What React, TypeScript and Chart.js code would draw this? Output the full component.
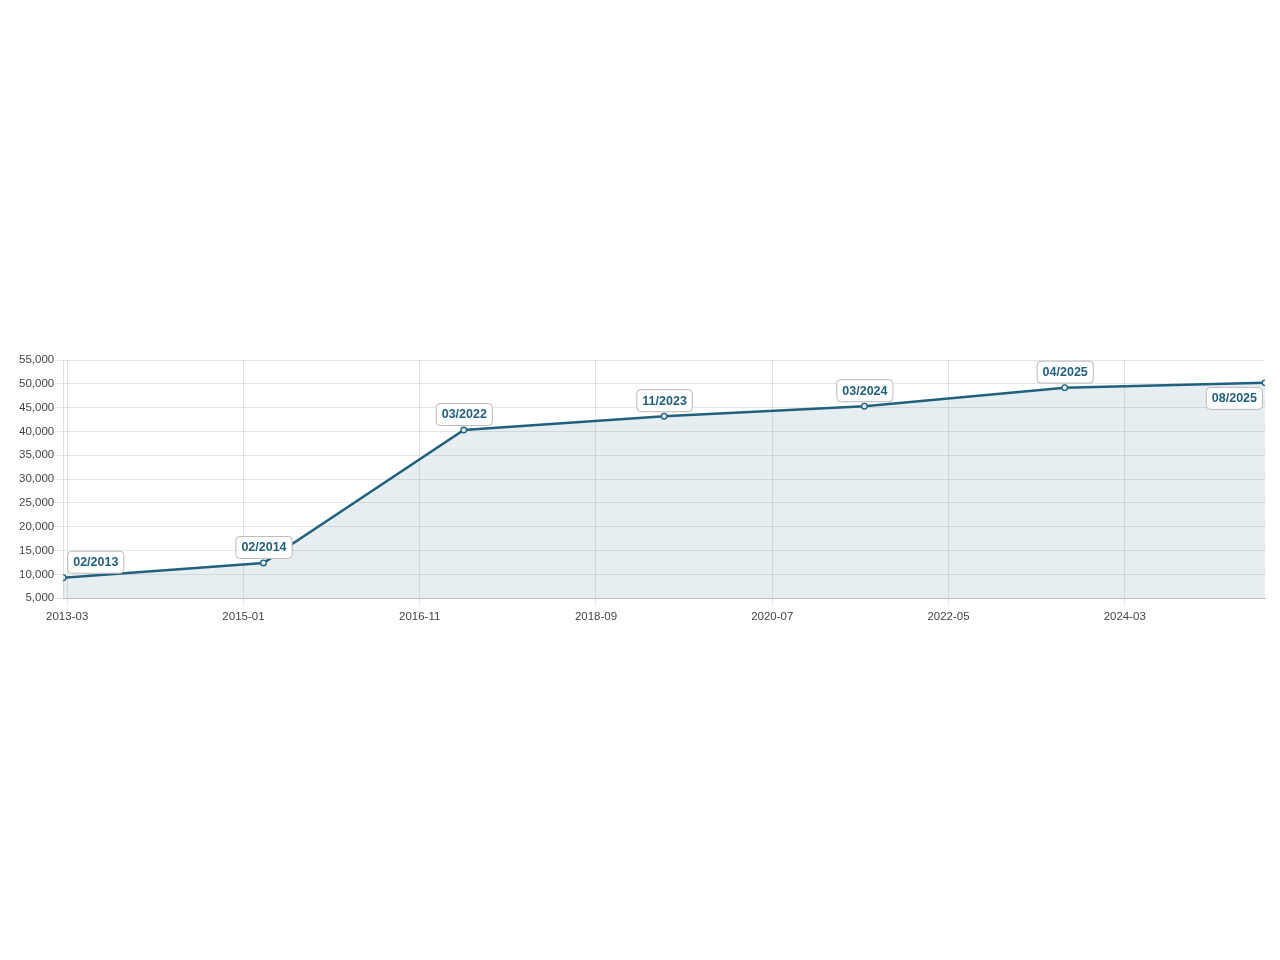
import React, { useEffect, useRef } from "react";
import { Chart, registerables } from "chart.js";

Chart.register(...registerables);

const pointLabels = ["02/2013", "02/2014", "03/2022", "11/2023", "03/2024", "04/2025", "08/2025"];
const values = [9300, 12400, 40300, 43200, 45300, 49200, 50200];
const tickLabels = ["2013-03", "2015-01", "2016-11", "2018-09", "2020-07", "2022-05", "2024-03"];
const yTicks = [5000, 10000, 15000, 20000, 25000, 30000, 35000, 40000, 45000, 50000, 55000];

// x axis spans mid-Feb 2013 (index 0) to mid-Aug 2025 (last index), 25 months per index
const MONTHS_PER_STEP = 25;
const tickPos = (label: string) => {
  const [y, m] = label.split("-").map(Number);
  const months = (y - 2013) * 12 + (m - 2) - 0.5;
  return months / MONTHS_PER_STEP;
};

const LINE = "#20617f";
const FONT = "'Liberation Sans', Arial, Helvetica, sans-serif";

const labelPlugin = {
  id: "boxLabels",
  afterDatasetsDraw(chart: any) {
    const ctx = chart.ctx;
    const area = chart.chartArea;
    const meta = chart.getDatasetMeta(0);
    ctx.save();
    ctx.font = `bold 12.5px ${FONT}`;
    meta.data.forEach((pt: any, i: number) => {
      const text = pointLabels[i];
      const tw = ctx.measureText(text).width;
      const w = tw + 11;
      const h = 22;
      let x = pt.x - w / 2;
      let y = pt.y - 5 - h;
      if (x + w > area.right) {
        x = pt.x - 3 - w;
        y = pt.y + 4;
      }
      if (x < area.left + 4) x = area.left + 4;
      ctx.beginPath();
      ctx.roundRect(x + 0.5, y + 0.5, w, h, 4);
      ctx.fillStyle = "#ffffff";
      ctx.fill();
      ctx.lineWidth = 1;
      ctx.strokeStyle = "#b9b9b9";
      ctx.stroke();
      ctx.fillStyle = "#1f5f7f";
      ctx.textAlign = "center";
      ctx.textBaseline = "middle";
      ctx.fillText(text, x + w / 2 + 0.5, y + h / 2 + 1);
    });
    ctx.restore();
  },
};

export default function App() {
  const ref = useRef<HTMLCanvasElement>(null);
  useEffect(() => {
    if (!ref.current) return;
    const chart = new Chart(ref.current, {
      type: "line",
      data: {
        datasets: [
          {
            data: values.map((v, i) => ({ x: i, y: v })),
            borderColor: LINE,
            borderWidth: 2.5,
            backgroundColor: "rgba(32,97,127,0.11)",
            fill: "origin",
            tension: 0,
            pointRadius: 2.8,
            pointBorderWidth: 1.3,
            pointBorderColor: LINE,
            pointBackgroundColor: "rgba(230,237,241,1)",
          },
        ],
      },
      options: {
        animation: false,
        responsive: false,
        maintainAspectRatio: false,
        layout: { padding: { left: 10, right: 7, top: 12, bottom: 0 } },
        plugins: { legend: { display: false }, tooltip: { enabled: false } },
        scales: {
          x: {
            type: "linear",
            min: 0,
            max: values.length - 1,
            afterBuildTicks: (axis: any) => {
              axis.ticks = tickLabels.map((l) => ({ value: tickPos(l), label: l }));
            },
            ticks: {
              autoSkip: false,
              maxRotation: 0,
              color: "#444",
              font: { family: FONT, size: 11.5 },
              padding: 6,
              callback: (_v: any, idx: number) => tickLabels[idx],
            },
            grid: { color: "rgba(0,0,0,0.1)", tickLength: 6 },
            border: { color: "rgba(0,0,0,0.18)" },
          },
          y: {
            min: 5000,
            max: 55000,
            afterBuildTicks: (axis: any) => {
              axis.ticks = yTicks.map((v) => ({ value: v }));
            },
            ticks: {
              color: "#444",
              font: { family: FONT, size: 11.5 },
              padding: 1,
              callback: (v: any) => Number(v).toLocaleString("en-US"),
            },
            grid: { color: "rgba(0,0,0,0.1)", tickLength: 8 },
            border: { color: "rgba(0,0,0,0.12)" },
          },
        },
      },
      plugins: [labelPlugin],
    });
    return () => chart.destroy();
  }, []);
  return (
    <div style={{ position: "absolute", left: 8, top: 348, width: 1264, height: 282 }}>
      <canvas ref={ref} width={1264} height={282} style={{ width: 1264, height: 282 }} />
    </div>
  );
}
